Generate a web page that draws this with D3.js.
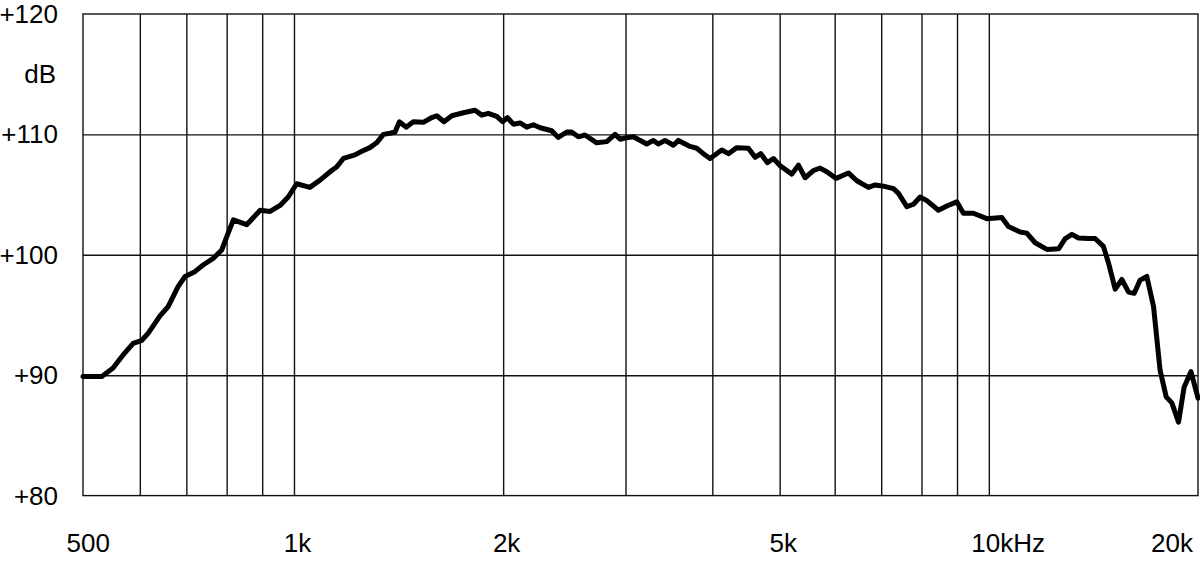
<!DOCTYPE html>
<html>
<head>
<meta charset="utf-8">
<script src="https://cdn.jsdelivr.net/npm/d3@7"></script>
<style>
  body { margin: 0; background: #fff; }
  svg { display: block; }
  svg text { font-family: "Liberation Sans", Arial, sans-serif; fill: #000; }
</style>
</head>
<body>
<div class="container"></div>
<script>
////////////////////////////////////////////////////////////////
// DATA
////////////////////////////////////////////////////////////////
var freqs = [497,529,549,568,587,604,617,641,659,681,697,720,740,765,787,804,818,855,894,924,
	955,981,1009,1054,1090,1133,1152,1178,1224,1252,1286,1315,1345,1375,1398,1418,1450,1485,1535,1579,
	1605,1644,1687,1753,1822,1863,1904,1958,1997,2028,2069,2115,2163,2211,2261,2349,2401,2469,2510,2566,
	2623,2727,2819,2898,2947,2996,3079,3219,3290,3345,3420,3516,3575,3715,3799,3883,3970,4127,4219,4338,
	4508,4609,4697,4801,4898,5008,5206,5321,5440,5591,5717,5845,6029,6280,6457,6710,6861,7053,7291,7413,
	7621,7790,7964,8143,8462,8700,8993,9192,9502,9933,10440,10670,11090,11340,11660,12120,12600,12880,13170,13460,
	13910,14220,14620,14870,15200,15540,15890,16190,16510,16880,17260,17640,18000,18340,18750,19100,19540,20000];
var levels = [89.9,89.9,90.6,91.7,92.65,92.9,93.5,94.9,95.7,97.35,98.2,98.6,99.15,99.7,100.4,101.8,102.9,102.5,103.7,103.6,
	104.1,104.8,105.9,105.6,106.2,107.0,107.3,108.0,108.3,108.6,108.9,109.3,110.0,110.1,110.2,111.05,110.6,111.05,111.0,111.4,
	111.55,111.05,111.55,111.8,112.0,111.6,111.75,111.5,111.05,111.4,110.85,110.95,110.6,110.8,110.55,110.3,109.75,110.2,110.2,109.8,
	109.95,109.3,109.4,110.0,109.6,109.7,109.8,109.2,109.5,109.2,109.5,109.1,109.5,109.0,108.85,108.4,108.0,108.7,108.4,108.9,
	108.85,108.1,108.4,107.65,108.0,107.4,106.7,107.45,106.4,107.0,107.2,106.9,106.35,106.8,106.15,105.6,105.8,105.7,105.5,105.1,
	104.0,104.2,104.8,104.5,103.7,104.05,104.4,103.45,103.45,103.0,103.1,102.35,101.9,101.8,101.0,100.45,100.5,101.35,101.7,101.4,
	101.35,101.35,100.7,99.3,97.15,97.95,96.9,96.8,97.9,98.2,95.7,90.4,88.2,87.7,86.1,89.0,90.3,88.1];

var xTicks = [500,1000,2000,5000,10000,20000];
var xTickLabels = ["500","1k","2k","5k","10kHz","20k"];
var xGrid = [600,700,800,900,1000,2000,3000,4000,5000,6000,7000,8000,9000,10000];
var yTicks = [80,90,100,110,120];
var yTickLabels = ["+80","+90","+100","+110","+120"];
var yUnit = "dB";

////////////////////////////////////////////////////////////////
// CREATE STAGE
////////////////////////////////////////////////////////////////
var W = 1200, H = 561;
var plotL = 83, plotR = 1198, plotT = 14, plotB = 495.6;

var svg = d3.select(".container")
	.append("svg")
	.attr("width", W)
	.attr("height", H);

var x = d3.scaleLog().domain([497, 20000]).range([plotL, plotR]);
var y = d3.scaleLinear().domain([80, 120]).range([plotB, plotT]);

////////////////////////////////////////////////////////////////
// GRID
////////////////////////////////////////////////////////////////
svg.append("g")
	.attr("transform", "translate(0," + plotB + ")")
	.call(d3.axisBottom(x).tickValues(xGrid).tickSize(-(plotB - plotT)).tickFormat(""))
	.call(function(g) { g.select(".domain").remove(); })
	.selectAll("line")
	.attr("stroke", "#111")
	.attr("stroke-width", 1.4);

svg.append("g")
	.attr("transform", "translate(" + plotL + ",0)")
	.call(d3.axisLeft(y).tickValues(yTicks.slice(1, -1)).tickSize(-(plotR - plotL)).tickFormat(""))
	.call(function(g) { g.select(".domain").remove(); })
	.selectAll("line")
	.attr("stroke", "#111")
	.attr("stroke-width", 1.4);

svg.append("rect")
	.attr("x", plotL)
	.attr("y", plotT)
	.attr("width", plotR - plotL)
	.attr("height", plotB - plotT)
	.attr("fill", "none")
	.attr("stroke", "#111")
	.attr("stroke-width", 1.4);

////////////////////////////////////////////////////////////////
// LABELS
////////////////////////////////////////////////////////////////
svg.selectAll(".ylab")
	.data(yTicks)
	.enter().append("text")
	.attr("class", "ylab")
	.attr("x", 58)
	.attr("y", function(d) { return y(d) + 9; })
	.attr("text-anchor", "end")
	.attr("font-size", 26)
	.text(function(d, i) { return yTickLabels[i]; });

svg.append("text")
	.attr("x", 56)
	.attr("y", 83)
	.attr("text-anchor", "end")
	.attr("font-size", 26)
	.text(yUnit);

svg.selectAll(".xlab")
	.data(xTicks)
	.enter().append("text")
	.attr("class", "xlab")
	.attr("y", 552)
	.attr("font-size", 26)
	.attr("text-anchor", function(d, i) { return i == xTicks.length - 1 ? "end" : "start"; })
	.attr("x", function(d, i) {
		if (i == xTicks.length - 1) return x(d) - 5;
		// centre the numeric part ("10k" of "10kHz") just right of the grid line
		var num = xTickLabels[i].replace("Hz", "");
		var tmp = svg.append("text").attr("font-size", 26).text(num);
		var w = tmp.node().getComputedTextLength();
		tmp.remove();
		return x(d) + 3.5 - w / 2;
	})
	.text(function(d, i) { return xTickLabels[i]; });

////////////////////////////////////////////////////////////////
// RESPONSE CURVE
////////////////////////////////////////////////////////////////
var line = d3.line()
	.x(function(d, i) { return x(freqs[i]); })
	.y(function(d) { return y(d); });

svg.append("path")
	.datum(levels)
	.attr("d", line)
	.attr("fill", "none")
	.attr("stroke", "#000")
	.attr("stroke-width", 5)
	.attr("stroke-linejoin", "round")
	.attr("stroke-linecap", "round");
</script>
</body>
</html>
